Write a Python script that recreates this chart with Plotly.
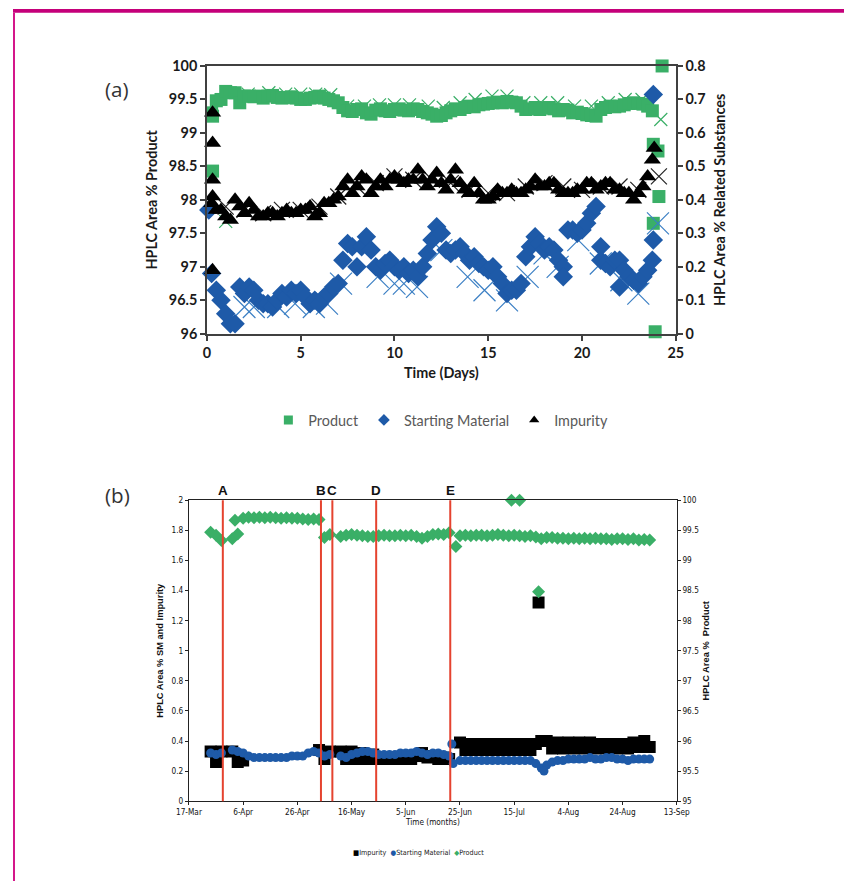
import math
import pandas as pd
import plotly.graph_objects as go

# ---------------- Panel (a): 24-day continuous run ----------------
# Sampled every 0.25 day starting at day 0.25
A_STEP = 0.25
product_a = [
    99.30, 99.48, 99.50, 99.62, 99.60, 99.60, 99.45, 99.55, 99.55, 99.54,
    99.55, 99.52, 99.55, 99.56, 99.53, 99.52, 99.53, 99.54, 99.52, 99.50,
    99.50, 99.52, 99.53, 99.55, 99.52, 99.50, 99.48, 99.45, 99.38, 99.33,
    99.32, 99.35, 99.36, 99.30, 99.28, 99.34, 99.36, 99.33, 99.32, 99.35,
    99.36, 99.34, 99.33, 99.36, 99.35, 99.32, 99.30, 99.28, 99.25, 99.26,
    99.30, 99.33, 99.36, 99.35, 99.38, 99.40, 99.39, 99.42, 99.43, 99.44,
    99.45, 99.46, 99.45, 99.47, 99.46, 99.45, 99.40, 99.35, 99.36, 99.38,
    99.35, 99.37, 99.38, 99.36, 99.33, 99.35, 99.34, 99.30, 99.31, 99.29,
    99.27, 99.26, 99.25, 99.35, 99.38, 99.40, 99.39, 99.40, 99.42, 99.44,
    99.45, 99.44, 99.43, 99.40, 99.33,
]
sm_a = [
    0.18, 0.13, 0.10, 0.06, 0.03, 0.03, 0.14, 0.12, 0.14, 0.13,
    0.10, 0.09, 0.09, 0.08, 0.10, 0.12, 0.11, 0.13, 0.12, 0.13,
    0.11, 0.09, 0.10, 0.09, 0.11, 0.12, 0.14, 0.15, 0.22, 0.27,
    0.26, 0.20, 0.26, 0.29, 0.25, 0.20, 0.19, 0.21, 0.22, 0.20,
    0.19, 0.20, 0.18, 0.19, 0.17, 0.20, 0.24, 0.28, 0.32, 0.30,
    0.25, 0.24, 0.25, 0.26, 0.24, 0.22, 0.23, 0.21, 0.20, 0.19,
    0.20, 0.17, 0.15, 0.12, 0.13, 0.13, 0.15, 0.23, 0.26, 0.29,
    0.27, 0.25, 0.26, 0.25, 0.22, 0.20, 0.31, 0.31, 0.30, 0.31,
    0.33, 0.36, 0.38, 0.22, 0.21, 0.20, 0.22, 0.22, 0.19, 0.17,
    0.16, 0.15, 0.17, 0.19, 0.22,
]
impurity_a = [
    0.39, 0.37, 0.37, 0.35, 0.34, 0.40, 0.38, 0.36, 0.39, 0.37,
    0.35, 0.35, 0.36, 0.36, 0.35, 0.36, 0.37, 0.36, 0.36, 0.37,
    0.37, 0.38, 0.35, 0.36, 0.39, 0.39, 0.40, 0.41, 0.44, 0.46,
    0.42, 0.44, 0.47, 0.46, 0.42, 0.44, 0.46, 0.44, 0.46, 0.47,
    0.46, 0.45, 0.46, 0.46, 0.49, 0.46, 0.44, 0.46, 0.48, 0.45,
    0.43, 0.46, 0.49, 0.45, 0.43, 0.42, 0.45, 0.42, 0.40, 0.40,
    0.41, 0.43, 0.42, 0.42, 0.43, 0.42, 0.42, 0.43, 0.44, 0.46,
    0.44, 0.44, 0.45, 0.45, 0.43, 0.42, 0.42, 0.42, 0.43, 0.43,
    0.45, 0.45, 0.43, 0.44, 0.45, 0.45, 0.43, 0.43, 0.42, 0.42,
    0.40, 0.42, 0.44, 0.47, 0.52,
]

# Isolated readings (start-up and shutdown)
product_a_extra_days = [0.3, 0.3, 23.8, 24.05, 24.1, 23.8, 23.9, 24.27]
product_a_extra = [99.25, 98.43, 98.83, 98.73, 98.05, 97.65, 96.03, 100.0]
sm_a_extra_days = [0.1, 19.0, 21.0, 22.0, 23.8, 23.8]
sm_a_extra = [0.37, 0.17, 0.26, 0.14, 0.715, 0.28]
impurity_a_extra_days = [0.3, 0.3, 0.3, 0.3, 0.3, 23.85]
impurity_a_extra = [0.66, 0.57, 0.46, 0.41, 0.19, 0.555]

# Off-line check samples (x markers)
product_chk_days = [1.0, 2.2, 3.3, 4.2, 5.0, 5.8, 6.6, 7.5, 8.4, 9.2, 10.0, 10.8,
                    11.8, 12.6, 13.5, 14.3, 15.2, 16.0, 16.9, 17.8, 18.7, 19.6,
                    20.5, 21.4, 22.3, 23.2, 24.2]
product_chk = [97.68, 99.58, 99.60, 99.58, 99.58, 99.58, 99.57, 99.40, 99.40,
               99.42, 99.42, 99.42, 99.40, 99.38, 99.45, 99.50, 99.55, 99.55,
               99.45, 99.45, 99.45, 99.40, 99.40, 99.45, 99.50, 99.50, 99.20]
sm_chk_days = [2.0, 2.5, 3.8, 4.7, 5.7, 6.4, 7.15, 9.1, 10.0, 10.5, 11.2, 12.5,
               13.9, 14.8, 16.0, 17.1, 18.0, 18.7, 19.8, 21.0, 22.1, 23.0, 24.05]
sm_chk = [0.08, 0.08, 0.08, 0.09, 0.08, 0.09, 0.15, 0.17, 0.15, 0.15, 0.14, 0.25,
          0.17, 0.13, 0.10, 0.17, 0.24, 0.20, 0.28, 0.21, 0.16, 0.12, 0.33]
impurity_chk_days = [1, 2, 3, 4, 5, 6, 7, 8, 9, 10, 11, 12, 13, 14, 15, 16, 17,
                     18, 19, 20, 21, 22, 23, 24.1]
impurity_chk = [0.38, 0.37, 0.36, 0.37, 0.37, 0.38, 0.41, 0.44, 0.45, 0.47, 0.46,
                0.46, 0.45, 0.43, 0.42, 0.42, 0.44, 0.45, 0.44, 0.43, 0.44, 0.44,
                0.43, 0.47]

# ---------------- Panel (b): long-term campaign ----------------
# Every 2 days starting 25-Mar (None = no reading)
B_START = "2014-03-25"
product_b = [
    99.47, 99.42, 99.33, None, 99.36, 99.44, 99.70, 99.72, 99.71, 99.72,
    99.71, 99.72, 99.71, 99.70, 99.71, 99.70, 99.70, 99.69, 99.68, 99.69,
    99.68, 99.38, 99.43, None, 99.40, 99.42, 99.43, 99.42, 99.41, 99.40,
    99.40, 99.41, 99.42, 99.41, 99.41, 99.42, 99.41, 99.42, 99.40, 99.37,
    99.40, 99.43, 99.44, 99.43, 99.46, None, 99.41, 99.42, 99.41, 99.42,
    99.42, 99.41, 99.42, 99.43, 99.42, 99.41, 99.42, 99.41, 99.40, 99.41,
    99.39, 99.36, 99.38, 99.38, 99.37, 99.37, 99.36, 99.37, 99.36, 99.37,
    99.36, 99.37, 99.36, 99.36, 99.35, 99.36, 99.36, 99.35, 99.36, 99.34,
    99.35, 99.34,
]
sm_b = [
    0.32, 0.31, 0.32, None, 0.34, 0.33, 0.32, 0.30, 0.29, 0.29,
    0.29, 0.29, 0.29, 0.29, 0.29, 0.30, 0.30, 0.30, 0.32, 0.33,
    0.32, 0.30, 0.31, None, 0.30, 0.29, 0.31, 0.32, 0.33, 0.33,
    0.32, 0.31, 0.31, 0.31, 0.31, 0.32, 0.32, 0.32, 0.33, 0.32,
    0.31, 0.32, 0.32, 0.31, 0.30, None, 0.27, 0.27, 0.27, 0.27,
    0.27, 0.27, 0.27, 0.27, 0.27, 0.27, 0.27, 0.27, 0.27, 0.27,
    0.25, 0.22, 0.24, 0.26, 0.27, 0.27, 0.28, 0.28, 0.28, 0.28,
    0.29, 0.28, 0.28, 0.29, 0.29, 0.28, 0.28, 0.27, 0.28, 0.28,
    0.28, 0.28,
]
impurity_b = [
    0.33, 0.26, 0.33, None, 0.33, 0.26, 0.27, None, None, None,
    None, None, None, None, None, None, None, None, None, None,
    0.34, 0.28, 0.33, None, 0.33, 0.28, 0.33, 0.28, 0.32, 0.28,
    0.31, 0.28, 0.29, 0.28, 0.29, 0.28, 0.29, 0.28, 0.30, 0.32,
    0.29, 0.30, 0.28, 0.29, 0.28, None, 0.39, 0.34, 0.38, 0.34,
    0.38, 0.34, 0.38, 0.34, 0.38, 0.34, 0.38, 0.34, 0.38, 0.34,
    0.38, 0.40, 0.40, 0.35, 0.39, 0.35, 0.39, 0.35, 0.39, 0.35,
    0.39, 0.35, 0.38, 0.35, 0.38, 0.35, 0.38, 0.35, 0.39, 0.36,
    0.40, 0.36,
]
product_b_extra_dates = ["2014-04-03", "2014-06-23 12:00", "2014-07-14", "2014-07-17", "2014-07-24"]
product_b_extra = [99.67, 99.23, 100.0, 100.0, 98.48]
sm_b_extra_dates = ["2014-06-22", "2014-06-22 12:00", "2014-07-26"]
sm_b_extra = [0.38, 0.25, 0.20]
impurity_b_extra_dates = ["2014-07-24"]
impurity_b_extra = [1.32]

# Process events
event_labels = ["A", "B", "C", "D", "E"]
event_dates = ["2014-03-29 12:00", "2014-05-04 17:00", "2014-05-08 22:00",
               "2014-05-25 02:00", "2014-06-21 10:00"]

# ---------------- styling ----------------
GREEN = "#3aaf67"
BLUE = "#1e5aa8"
BLACK = "#000000"
RED = "#e5432f"
MAGENTA = "#c5007a"

# Page geometry: the page draws the figure offset by (OX, OY) and scaled by
# (SX, SY); positions below are given in window pixels and converted here.
PAGE_W, PAGE_H = 844, 881
OX, OY = 12.0, 8.2
SX, SY = 0.970, 0.978
FW = math.ceil((PAGE_W - OX) / SX)
FH = math.ceil((PAGE_H - OY) / SY)


def px_x(p):
    return ((p - OX) / SX) / FW


def px_y(p):
    return 1 - ((p - OY) / SY) / FH


def fs(size):
    return round(size / SX, 1)


def to_dates(values):
    return list(pd.to_datetime(values, format="ISO8601"))


days_a = [A_STEP * (i + 1) for i in range(len(product_a))]
dates_b = list(pd.date_range(B_START, periods=len(product_b), freq="2D"))

fig = go.Figure()


def x_marker(size, color):
    return dict(symbol="x-thin-open", size=size, color=color, line=dict(color=color, width=1.2))


# ---- panel (a) traces ----
fig.add_trace(go.Scatter(x=product_chk_days, y=product_chk, mode="markers", xaxis="x", yaxis="y",
                         marker=x_marker(13, GREEN), showlegend=False, cliponaxis=False))
fig.add_trace(go.Scatter(x=sm_chk_days, y=sm_chk, mode="markers", xaxis="x", yaxis="y2",
                         marker=x_marker(22, "#3b7fc4"), showlegend=False, cliponaxis=False))
fig.add_trace(go.Scatter(x=impurity_chk_days, y=impurity_chk, mode="markers", xaxis="x", yaxis="y2",
                         marker=x_marker(16, "#222222"), showlegend=False, cliponaxis=False))

fig.add_trace(go.Scatter(x=days_a + product_a_extra_days, y=product_a + product_a_extra,
                         mode="markers", xaxis="x", yaxis="y", showlegend=False,
                         marker=dict(symbol="square", size=13, color=GREEN), cliponaxis=False))
fig.add_trace(go.Scatter(x=[A_STEP * (i + 1) for i in range(len(sm_a))] + sm_a_extra_days,
                         y=sm_a + sm_a_extra, mode="markers", xaxis="x", yaxis="y2",
                         showlegend=False,
                         marker=dict(symbol="diamond", size=15, color=BLUE), cliponaxis=False))
fig.add_trace(go.Scatter(x=[A_STEP * (i + 1) for i in range(len(impurity_a))] + impurity_a_extra_days,
                         y=impurity_a + impurity_a_extra, mode="markers", xaxis="x", yaxis="y2",
                         showlegend=False,
                         marker=dict(symbol="triangle-up", size=15, color=BLACK), cliponaxis=False))

# legend keys for panel (a)
for name, sym, col, yax in [("Product", "square", GREEN, "y"),
                            ("Starting Material", "diamond", BLUE, "y2"),
                            ("Impurity", "triangle-up", BLACK, "y2")]:
    fig.add_trace(go.Scatter(x=[None], y=[None], mode="markers", xaxis="x", yaxis=yax, name=name,
                             marker=dict(symbol=sym, size=9, color=col), showlegend=True))

# ---- panel (b) traces ----
fig.add_trace(go.Scatter(x=dates_b + to_dates(impurity_b_extra_dates),
                         y=impurity_b + impurity_b_extra, mode="markers", xaxis="x2", yaxis="y3",
                         marker=dict(symbol="square", size=12, color=BLACK), showlegend=False))
fig.add_trace(go.Scatter(x=dates_b + to_dates(sm_b_extra_dates),
                         y=sm_b + sm_b_extra, mode="markers", xaxis="x2", yaxis="y3",
                         marker=dict(symbol="circle", size=9, color=BLUE), showlegend=False))
fig.add_trace(go.Scatter(x=dates_b + to_dates(product_b_extra_dates),
                         y=product_b + product_b_extra, mode="markers", xaxis="x2", yaxis="y4",
                         marker=dict(symbol="diamond", size=10, color=GREEN), showlegend=False,
                         cliponaxis=False))

# ---- axes ----
font_a = "Lato, 'Open Sans', sans-serif"
tick_a = dict(family=font_a, size=fs(14), color="#1a1a1a", weight="bold")
title_a = dict(family=font_a, size=fs(14), color="#1a1a1a", weight="bold")
line_a = dict(showline=True, linecolor="#404040", linewidth=1.5, ticks="outside",
              ticklen=5, tickwidth=1.5, tickcolor="#404040", showgrid=False, zeroline=False)

font_b = "'Liberation Sans Narrow', 'DejaVu Sans Condensed', 'Liberation Sans', sans-serif"
tick_b = dict(family=font_b, size=fs(8), color="#111111")
title_b = dict(family="'Liberation Sans', Arial, sans-serif", size=fs(9), color="#111111",
               weight="bold")
line_b = dict(showline=True, linecolor="#222222", linewidth=1, ticks="outside",
              ticklen=3, tickwidth=1, tickcolor="#222222", showgrid=False, zeroline=False)

fig.update_layout(
    width=FW, height=FH,
    margin=dict(l=0, r=0, t=0, b=0),
    paper_bgcolor="white", plot_bgcolor="white",
    xaxis=dict(domain=[px_x(206), px_x(675)], anchor="y", range=[0, 25], dtick=5,
               mirror=True, tickfont=tick_a,
               title=dict(text="Time (Days)", font=title_a, standoff=8), **line_a),
    yaxis=dict(domain=[px_y(332), px_y(65)], anchor="x", range=[96, 100], dtick=0.5,
               tickfont=tick_a,
               title=dict(text="HPLC Area % Product", font=title_a, standoff=8), **line_a),
    yaxis2=dict(overlaying="y", side="right", anchor="x", range=[0, 0.8], dtick=0.1,
                tickfont=tick_a,
                title=dict(text="HPLC Area % Related Substances", font=title_a, standoff=10),
                **line_a),
    xaxis2=dict(domain=[px_x(188), px_x(676)], anchor="y3", type="date",
                range=["2014-03-17", "2014-09-13"], tick0="2014-03-17",
                dtick=20 * 86400000, tickformat="%-d-%b", mirror=True, tickfont=tick_b,
                title=dict(text="Time (months)",
                           font=dict(family=font_b, size=fs(8), color="#111111"), standoff=2),
                **line_b),
    yaxis3=dict(domain=[px_y(798), px_y(498)], anchor="x2", range=[0, 2], dtick=0.2,
                tickfont=tick_b,
                title=dict(text="HPLC Area % SM and Impurity", font=title_b, standoff=6), **line_b),
    yaxis4=dict(overlaying="y3", side="right", anchor="x2", range=[95, 100], dtick=0.5,
                tickfont=tick_b,
                title=dict(text="HPLC Area %  Product", font=title_b, standoff=4), **line_b),
    legend=dict(orientation="h", x=px_x(440), xanchor="center", y=px_y(418), yanchor="middle",
                font=dict(family=font_a, size=fs(14), color="#595959"), itemwidth=30,
                bgcolor="rgba(0,0,0,0)", tracegroupgap=0),
    showlegend=True,
)

# ---- decorations ----
shapes = [
    dict(type="rect", xref="paper", yref="paper", x0=0, x1=1, y0=px_y(12), y1=1,
         fillcolor=MAGENTA, line=dict(width=0), layer="above"),
    dict(type="rect", xref="paper", yref="paper", x0=0, x1=px_x(OX + 2), y0=0, y1=px_y(12),
         fillcolor="#d4168a", line=dict(width=0), layer="above"),
]
for d in event_dates:
    shapes.append(dict(type="line", xref="x2", yref="y3 domain", x0=d, x1=d, y0=0, y1=1,
                       line=dict(color=RED, width=2)))
fig.update_layout(shapes=shapes)

annotations = [
    dict(text="(a)", xref="paper", yref="paper", x=px_x(102), y=px_y(72), showarrow=False,
         font=dict(family="'Open Sans', sans-serif", size=fs(20), color="#333333")),
    dict(text="(b)", xref="paper", yref="paper", x=px_x(102), y=px_y(493), showarrow=False,
         font=dict(family="'Open Sans', sans-serif", size=fs(20), color="#333333")),
]
for lab, d in zip(event_labels, event_dates):
    annotations.append(dict(text=lab, xref="x2", yref="y3 domain", x=d, y=1, yanchor="bottom",
                            yshift=0, showarrow=False,
                            font=dict(family="'Liberation Sans', sans-serif", size=fs(13),
                                      color="#111111", weight="bold")))
annotations.append(dict(
    text=("<span style='color:#000000'>■</span>Impurity  "
          "<span style='color:%s'>●</span>Starting Material  "
          "<span style='color:%s'>◆</span>Product") % (BLUE, GREEN),
    xref="paper", yref="paper", x=px_x(418), y=px_y(849), xanchor="center", yanchor="middle",
    showarrow=False, font=dict(family=font_b, size=fs(7), color="#222222")))
fig.update_layout(annotations=annotations)

fig.write_html("out.html")
